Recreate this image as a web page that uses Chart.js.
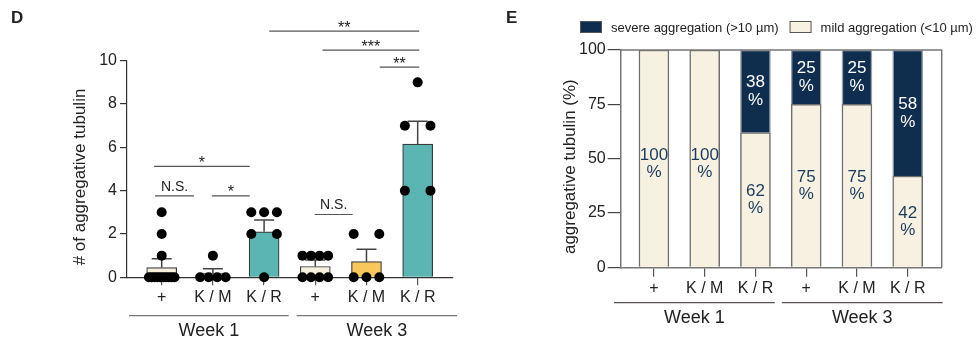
<!DOCTYPE html>
<html>
<head>
<meta charset="utf-8">
<script src="https://cdn.jsdelivr.net/npm/chart.js@4.4.1/dist/chart.umd.min.js"></script>
<style>
  html, body { margin: 0; padding: 0; background: #fff; }
  #wrap { position: relative; width: 976px; height: 339px; overflow: hidden; font-family: "Liberation Sans", Arial, sans-serif; }
  .panel { position: absolute; top: 0; height: 339px; }
  #boxD { left: 0; width: 480px; }
  #boxE { left: 480px; width: 496px; }
  .tag { position: absolute; font-weight: bold; font-size: 17px; color: #222; line-height: 20px; }
</style>
</head>
<body>
<div id="wrap">
  <div class="panel" id="boxD"><canvas id="chartD" width="480" height="339"></canvas></div>
  <div class="panel" id="boxE"><canvas id="chartE" width="496" height="339"></canvas></div>
  <div class="tag" style="left:11px;top:8px">D</div>
  <div class="tag" style="left:506px;top:8px">E</div>
</div>
<script>
// categories
const groupLabels = ['+', 'K / M', 'K / R', '+', 'K / M', 'K / R'];
const weekLabels = ['Week 1', 'Week 3'];
const weekMembers = [[0, 2], [3, 5]];

// panel D: counts per animal, mean and upper error
const w1Plus = [3, 2, 1, 0, 0, 0, 0, 0, 0, 0, 0, 0, 0];
const w1KM = [1, 0, 0, 0, 0];
const w1KR = [3, 3, 3, 2, 2, 0];
const w3Plus = [1, 1, 1, 1, 0, 0, 0, 0];
const w3KM = [2, 2, 0, 0, 0];
const w3KR = [9, 7, 7, 4, 4];
const pointsD = [w1Plus, w1KM, w1KR, w3Plus, w3KM, w3KR];
const meanD = [0.45, 0.2, 2.1, 0.5, 0.72, 6.15];
const errD = [0.41, 0.2, 0.55, 0.3, 0.58, 1.05];
const sigFrom = [-0.15, -0.13, 0.98, 2.99, 2.1, 3.14, 4.26];
const sigTo = [1.72, 0.63, 1.72, 3.73, 5.03, 5.03, 5.03];
const sigLevel = [5.12, 3.76, 3.76, 2.9, 11.37, 10.49, 9.7];
const sigText = ['*', 'N.S.', '*', 'N.S.', '**', '***', '**'];

// panel E: percentages
const severeE = [0, 0, 38, 25, 25, 58];
const mildE = [100, 100, 62, 75, 75, 42];
const seriesE = ['severe aggregation (>10 \u00b5m)', 'mild aggregation (<10 \u00b5m)'];

const FONT = '"Liberation Sans", Arial, sans-serif';
Chart.defaults.font.family = FONT;
Chart.defaults.color = '#222';

const barColD = ['#f6f0dd', '#f6f0dd', '#5bb5b3', '#f6f0dd', '#f9c75c', '#5bb5b3'];
const navy = '#0f2e4f';
const beige = '#f6f1e1';

// spread points with same value side by side
function swarm(vals, idx) {
  const counts = new Map();
  vals.forEach(v => counts.set(v, (counts.get(v) || 0) + 1));
  const out = [];
  counts.forEach((n, v) => {
    const step = n > 1 ? Math.min(0.5, 0.5 / (n - 1)) : 0;
    for (let j = 0; j < n; j++) out.push({x: idx + (j - (n - 1) / 2) * step, y: v});
  });
  return out;
}

function fixTicks(scale) {
  scale.ticks = groupLabels.map((l, i) => ({value: i}));
}

// week brackets under the x axis + rotated y title
const underAxis = {
  id: 'underAxis',
  afterDraw(chart, args, o) {
    const {ctx, chartArea: ca} = chart;
    const xs = chart.scales.x;
    ctx.save();
    const mid = (xs.getPixelForValue(weekMembers[0][1]) + xs.getPixelForValue(weekMembers[1][0])) / 2;
    const spans = [[ca.left + o.l0, mid + o.m0], [mid + o.m1, ca.right + o.r1]];
    ctx.strokeStyle = o.lineColor;
    ctx.lineWidth = 1.2;
    ctx.fillStyle = '#222';
    ctx.font = '18px ' + FONT;
    ctx.textAlign = 'center';
    ctx.textBaseline = 'alphabetic';
    spans.forEach((s, k) => {
      ctx.beginPath();
      ctx.moveTo(s[0], ca.bottom + o.lineY);
      ctx.lineTo(s[1], ca.bottom + o.lineY);
      ctx.stroke();
      ctx.fillText(weekLabels[k], (s[0] + s[1]) / 2, ca.bottom + o.textY);
    });
    // y title
    ctx.font = '17px ' + FONT;
    ctx.textBaseline = 'middle';
    ctx.translate(o.titleX, (ca.top + ca.bottom) / 2 + 8);
    ctx.rotate(-Math.PI / 2);
    ctx.fillText(o.title, 0, 0);
    ctx.restore();
  }
};

const errorBars = {
  id: 'errorBars',
  afterDatasetDraw(chart, args) {
    if (args.index !== 0) return;
    const {ctx} = chart;
    const xs = chart.scales.x, ys = chart.scales.y;
    ctx.save();
    ctx.strokeStyle = '#444';
    ctx.lineWidth = 1.5;
    meanD.forEach((m, i) => {
      const x = xs.getPixelForValue(i);
      const y0 = ys.getPixelForValue(m);
      const y1 = ys.getPixelForValue(m + errD[i]);
      ctx.beginPath();
      ctx.moveTo(x, y0); ctx.lineTo(x, y1);
      ctx.moveTo(x - 10, y1); ctx.lineTo(x + 10, y1);
      ctx.stroke();
    });
    ctx.restore();
  }
};

const sigBars = {
  id: 'sigBars',
  afterDraw(chart) {
    const {ctx} = chart;
    const xs = chart.scales.x, ys = chart.scales.y;
    ctx.save();
    ctx.strokeStyle = '#555';
    ctx.lineWidth = 1.2;
    ctx.fillStyle = '#222';
    ctx.textAlign = 'center';
    ctx.textBaseline = 'alphabetic';
    sigText.forEach((t, i) => {
      const y = ys.getPixelForValue(sigLevel[i]);
      const x0 = xs.getPixelForValue(sigFrom[i]), x1 = xs.getPixelForValue(sigTo[i]);
      ctx.beginPath(); ctx.moveTo(x0, y); ctx.lineTo(x1, y); ctx.stroke();
      const isStar = t.indexOf('*') === 0;
      ctx.font = (isStar ? '16px ' : '14px ') + FONT;
      ctx.fillText(t, (x0 + x1) / 2, isStar ? y + 1.5 : y - 5);
    });
    ctx.restore();
  }
};

new Chart(document.getElementById('chartD'), {
  type: 'bar',
  data: {
    datasets: [
      {
        type: 'bar',
        data: meanD.map((m, i) => ({x: i, y: m})),
        backgroundColor: barColD,
        borderColor: '#3a3a3a',
        borderWidth: 1.2,
        barThickness: 30,
        grouped: false,
        order: 1
      },
      {
        type: 'scatter',
        data: pointsD.flatMap((vals, i) => swarm(vals, i)),
        backgroundColor: '#000',
        borderWidth: 0,
        pointRadius: 5,
        clip: false,
        order: 0
      }
    ]
  },
  options: {
    responsive: false,
    animation: false,
    layout: {padding: {top: 60.7, right: 27, left: 0, bottom: 0}},
    plugins: {
      legend: {display: false},
      tooltip: {enabled: false},
      underAxis: {lineColor: '#777', l0: 2, m0: -1, m1: 7, r1: 4, lineY: 38.4, textY: 59, titleX: 80, title: '# of aggregative tubulin'}
    },
    scales: {
      x: {
        type: 'linear', min: -0.678, max: 5.69, offset: false,
        afterBuildTicks: fixTicks,
        afterFit: s => { s.height = 61.7; },
        ticks: {callback: v => groupLabels[Math.round(v)], font: {size: 16}, padding: 3, autoSkip: false, maxRotation: 0},
        grid: {drawOnChartArea: false, offset: false, tickLength: 8, color: '#555', lineWidth: 1.2},
        border: {color: '#333', width: 1.2}
      },
      y: {
        min: 0, max: 10,
        afterFit: s => { s.width = 127; },
        ticks: {stepSize: 2, font: {size: 16}, padding: 3},
        grid: {drawOnChartArea: false, tickLength: 7, color: '#333', lineWidth: 1.2},
        border: {color: '#333', width: 1.2}
      }
    }
  },
  plugins: [errorBars, sigBars, underAxis]
});

// panel E helpers
const frameLegend = {
  id: 'frameLegend',
  afterDraw(chart) {
    const {ctx, chartArea: ca} = chart;
    ctx.save();
    // frame top and right
    ctx.strokeStyle = '#777';
    ctx.lineWidth = 1.5;
    ctx.beginPath();
    ctx.moveTo(ca.left, ca.top); ctx.lineTo(ca.right, ca.top); ctx.lineTo(ca.right, ca.bottom);
    ctx.stroke();
    // legend
    ctx.font = '13px ' + FONT;
    ctx.textBaseline = 'middle';
    ctx.textAlign = 'left';
    let x = 100;
    [1, 0].forEach(di => {
      const ds = chart.data.datasets[di];
      ctx.fillStyle = ds.backgroundColor;
      ctx.fillRect(x, 21, 22, 12);
      ctx.strokeStyle = '#555';
      ctx.lineWidth = 1;
      ctx.strokeRect(x + 0.5, 21.5, 21, 11);
      ctx.fillStyle = '#222';
      ctx.fillText(ds.label, x + 31, 28);
      x += 31 + ctx.measureText(ds.label).width + 11;
    });
    // value labels inside bars
    ctx.textAlign = 'center';
    ctx.font = '17px ' + FONT;
    chart.data.datasets.forEach((ds, di) => {
      const meta = chart.getDatasetMeta(di);
      meta.data.forEach((bar, i) => {
        const v = ds.data[i].y;
        if (!v) return;
        const cy = (bar.y + bar.base) / 2 + (v === 100 ? 5 : 0);
        ctx.fillStyle = di === 1 ? '#fff' : '#1b3a5c';
        ctx.fillText(String(v), bar.x, cy - 8.5);
        ctx.fillText('%', bar.x, cy + 9);
      });
    });
    ctx.restore();
  }
};

new Chart(document.getElementById('chartE'), {
  type: 'bar',
  data: {
    datasets: [
      {
        label: seriesE[1],
        data: mildE.map((v, i) => ({x: i, y: v})),
        backgroundColor: beige,
        borderColor: '#6e6e6e',
        borderWidth: 1.5,
        barThickness: 30,
        grouped: false
      },
      {
        label: seriesE[0],
        data: severeE.map((v, i) => ({x: i, y: v})),
        backgroundColor: navy,
        borderColor: '#9aa0a6',
        borderWidth: 1.5,
        barThickness: 30,
        grouped: false
      }
    ]
  },
  options: {
    responsive: false,
    animation: false,
    layout: {padding: {top: 50, right: 34.3, left: 0, bottom: 0}},
    plugins: {
      legend: {display: false},
      tooltip: {enabled: false},
      underAxis: {lineColor: '#5e5050', l0: -6.7, m0: -6, m1: 1, r1: 1, lineY: 35.4, textY: 55.7, titleX: 90.7, title: 'aggregative tubulin (%)'}
    },
    scales: {
      x: {
        type: 'linear', min: -0.655, max: 5.67, offset: false,
        afterBuildTicks: fixTicks,
        afterFit: s => { s.height = 71.7; },
        ticks: {callback: v => groupLabels[Math.round(v)], font: {size: 16}, padding: 2, autoSkip: false, maxRotation: 0},
        grid: {drawOnChartArea: false, offset: false, tickLength: 9.5, color: '#555', lineWidth: 1.2},
        border: {color: '#777', width: 1.5}
      },
      y: {
        min: 0, max: 100, stacked: true,
        afterFit: s => { s.width = 140.7; },
        ticks: {stepSize: 25, font: {size: 16}, padding: 2},
        grid: {drawOnChartArea: false, tickLength: 13, color: '#444', lineWidth: 1.2},
        border: {color: '#777', width: 1.5}
      }
    }
  },
  plugins: [frameLegend, underAxis]
});
</script>
</body>
</html>
